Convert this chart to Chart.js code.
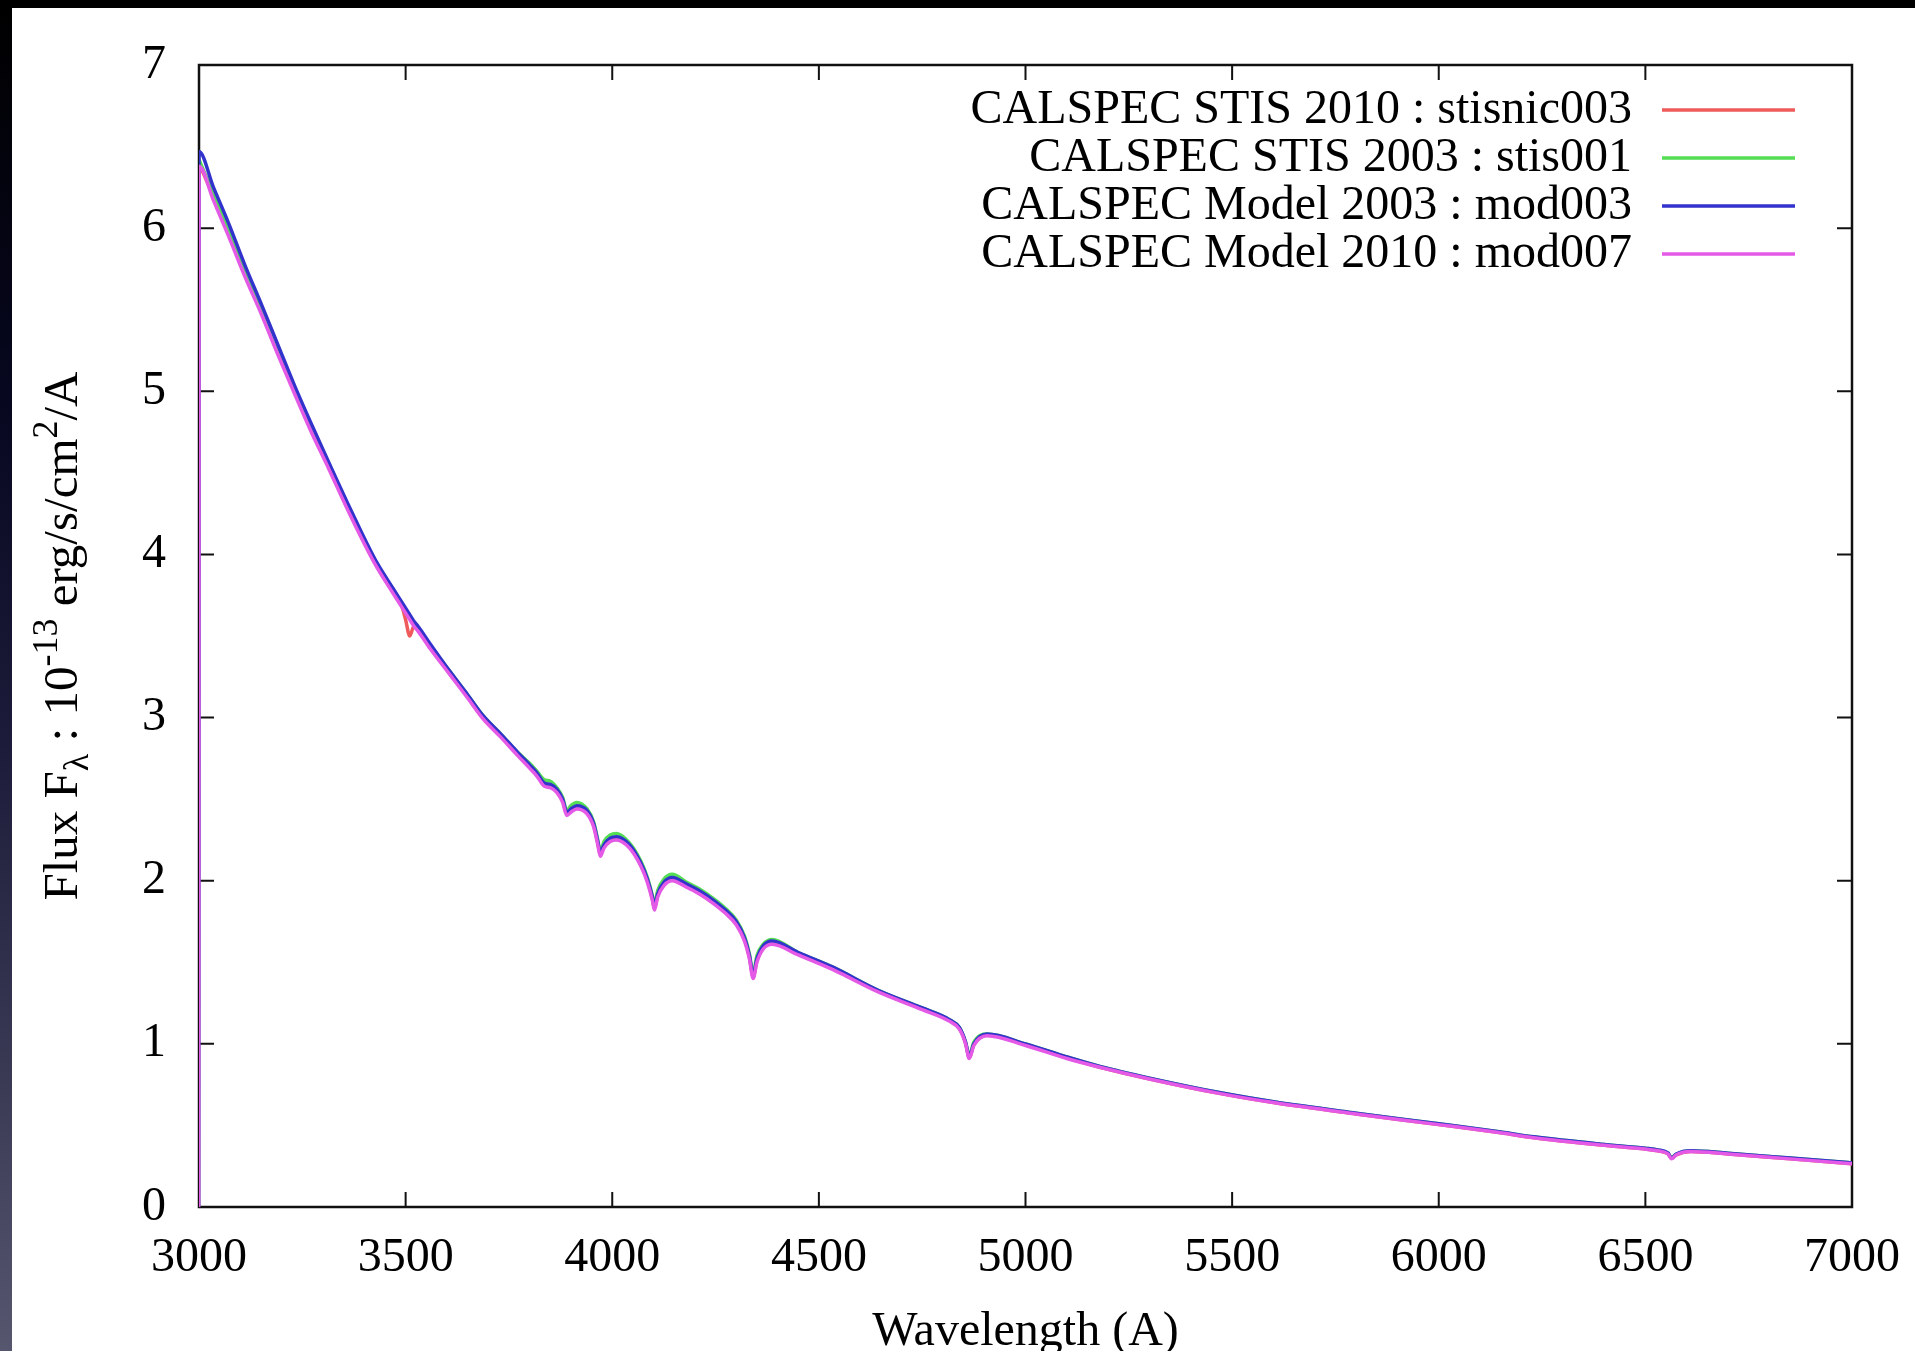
<!DOCTYPE html>
<html>
<head>
<meta charset="utf-8">
<title>CALSPEC flux comparison</title>
<script src="https://cdn.jsdelivr.net/npm/chart.js@4/dist/chart.umd.min.js"></script>
<style>
  html, body { margin: 0; padding: 0; background: #fff; overflow: hidden; }
  #stage { position: relative; width: 1915px; height: 1351px; }
  .band-top { position: absolute; left: 0; top: 0; width: 1915px; height: 8px; background: #000; }
  .band-left { position: absolute; left: 0; top: 0; width: 12px; height: 1351px;
    background: linear-gradient(to bottom, #000 0%, #070720 30%, #1c1c3a 55%, #3a3a55 80%, #56566f 100%); }
  #spectrum { position: absolute; left: 0; top: 0; }
</style>
</head>
<body>
<div id="stage">
  <div class="band-top"></div>
  <div class="band-left"></div>
  <canvas id="spectrum" width="1915" height="1351"></canvas>
</div>
<script>
// 波長 (A)
const wavelength = [
  2999, 3000, 3035, 3070, 3110, 3153, 3190, 3232, 3270, 3313,
  3366, 3426, 3470, 3490, 3500, 3510, 3520, 3530, 3560, 3608,
  3650, 3688, 3730, 3770, 3800, 3818, 3835, 3850, 3866, 3880,
  3890, 3900, 3914, 3939, 3955, 3965, 3971, 3980, 3995, 4010,
  4042, 4069, 4085, 4097, 4102, 4110, 4125, 4145, 4180, 4210,
  4245, 4274, 4300, 4320, 4332, 4341, 4350, 4365, 4387, 4450,
  4534, 4642, 4750, 4815, 4840, 4855, 4864, 4875, 4907, 5000,
  5100, 5182, 5300, 5472, 5600, 5800, 6000, 6150, 6230, 6392,
  6500, 6530, 6555, 6563, 6575, 6610, 6700, 6850, 7000
];

// フラックス (1e-13 erg/s/cm2/A)
const stisnic003 = [
  null, 6.40, 6.19, 5.98, 5.73, 5.47, 5.25, 5.00, 4.78, 4.54,
  4.25, 3.95, 3.77, 3.69, 3.60, 3.50, 3.56, 3.54, 3.43, 3.27,
  3.13, 3.00, 2.89, 2.78, 2.70, 2.65, 2.60, 2.58, 2.55, 2.49,
  2.41, 2.43, 2.45, 2.42, 2.34, 2.23, 2.16, 2.21, 2.25, 2.26,
  2.21, 2.10, 2.00, 1.89, 1.83, 1.91, 1.98, 2.01, 1.97, 1.93,
  1.87, 1.81, 1.74, 1.64, 1.53, 1.41, 1.51, 1.59, 1.62, 1.55,
  1.46, 1.325, 1.215, 1.145, 1.095, 1.005, 0.915, 0.995, 1.055, 0.995,
  0.915, 0.855, 0.785, 0.695, 0.64, 0.57, 0.505, 0.455, 0.425, 0.38,
  0.355, 0.345, 0.325, 0.30, 0.32, 0.34, 0.325, 0.295, 0.265
];

const stis001 = [
  null, 6.42, 6.21, 6.00, 5.75, 5.49, 5.26, 5.01, 4.79, 4.55,
  4.26, 3.96, 3.78, 3.70, 3.66, 3.62, 3.58, 3.55, 3.44, 3.28,
  3.14, 3.01, 2.90, 2.79, 2.72, 2.67, 2.62, 2.61, 2.57, 2.51,
  2.43, 2.46, 2.48, 2.44, 2.36, 2.25, 2.18, 2.24, 2.28, 2.29,
  2.23, 2.12, 2.02, 1.91, 1.85, 1.94, 2.01, 2.04, 1.99, 1.95,
  1.89, 1.83, 1.76, 1.66, 1.55, 1.43, 1.54, 1.61, 1.64, 1.56,
  1.47, 1.33, 1.22, 1.15, 1.10, 1.01, 0.93, 1.01, 1.06, 1.00,
  0.92, 0.86, 0.79, 0.70, 0.645, 0.575, 0.51, 0.46, 0.43, 0.385,
  0.36, 0.35, 0.33, 0.305, 0.325, 0.345, 0.33, 0.30, 0.27
];

const mod003 = [
  0, 6.47, 6.25, 6.04, 5.78, 5.52, 5.29, 5.03, 4.81, 4.57,
  4.28, 3.97, 3.79, 3.71, 3.67, 3.63, 3.59, 3.56, 3.45, 3.28,
  3.14, 3.01, 2.90, 2.79, 2.71, 2.66, 2.60, 2.59, 2.56, 2.50,
  2.42, 2.44, 2.46, 2.43, 2.35, 2.24, 2.17, 2.22, 2.26, 2.27,
  2.22, 2.11, 2.01, 1.90, 1.84, 1.92, 1.99, 2.02, 1.98, 1.94,
  1.88, 1.82, 1.75, 1.65, 1.54, 1.42, 1.52, 1.60, 1.63, 1.56,
  1.47, 1.33, 1.22, 1.15, 1.10, 1.01, 0.92, 1.00, 1.06, 1.00,
  0.92, 0.86, 0.79, 0.70, 0.645, 0.575, 0.51, 0.46, 0.43, 0.385,
  0.36, 0.35, 0.33, 0.30, 0.325, 0.345, 0.33, 0.30, 0.27
];

const mod007 = [
  0, 6.38, 6.17, 5.96, 5.71, 5.46, 5.23, 4.98, 4.76, 4.53,
  4.24, 3.94, 3.76, 3.68, 3.64, 3.60, 3.56, 3.53, 3.42, 3.26,
  3.12, 2.99, 2.88, 2.77, 2.69, 2.64, 2.58, 2.57, 2.54, 2.48,
  2.40, 2.42, 2.44, 2.41, 2.33, 2.22, 2.15, 2.20, 2.24, 2.25,
  2.20, 2.09, 1.99, 1.88, 1.82, 1.90, 1.97, 2.00, 1.96, 1.92,
  1.86, 1.80, 1.73, 1.63, 1.52, 1.40, 1.50, 1.58, 1.61, 1.545,
  1.455, 1.32, 1.21, 1.14, 1.09, 1.00, 0.91, 0.99, 1.05, 0.99,
  0.91, 0.855, 0.785, 0.695, 0.64, 0.57, 0.505, 0.455, 0.425, 0.38,
  0.355, 0.345, 0.325, 0.295, 0.32, 0.34, 0.325, 0.295, 0.265
];

const seriesLabels = [
  'CALSPEC STIS 2010 : stisnic003',
  'CALSPEC STIS 2003 : stis001',
  'CALSPEC Model 2003 : mod003',
  'CALSPEC Model 2010 : mod007'
];
const seriesValues = [stisnic003, stis001, mod003, mod007];
const seriesColors = ['#ef5a5a', '#55dd55', '#3232cc', '#e45ae6'];

const xTicks = [3000, 3500, 4000, 4500, 5000, 5500, 6000, 6500, 7000];
const yTicks = [0, 1, 2, 3, 4, 5, 6, 7];

const FONT = '"Liberation Serif", "Times New Roman", serif';
const FONT_SIZE = 48;

function toPoints(values) {
  return wavelength.map((w, i) => ({ x: w, y: values[i] }));
}

// 枠線と内向きの目盛り（gnuplot風）
const gnuplotFrame = {
  id: 'gnuplotFrame',
  beforeDatasetsDraw(chart) {
    const { ctx, chartArea: a, scales } = chart;
    const tick = 15;
    ctx.save();
    ctx.strokeStyle = '#111';
    ctx.lineWidth = 2.5;
    ctx.strokeRect(a.left, a.top, a.right - a.left, a.bottom - a.top);
    ctx.lineWidth = 2;
    ctx.beginPath();
    xTicks.forEach(v => {
      const px = scales.x.getPixelForValue(v);
      ctx.moveTo(px, a.bottom); ctx.lineTo(px, a.bottom - tick);
      ctx.moveTo(px, a.top); ctx.lineTo(px, a.top + tick);
    });
    yTicks.forEach(v => {
      const py = scales.y.getPixelForValue(v);
      ctx.moveTo(a.left, py); ctx.lineTo(a.left + tick, py);
      ctx.moveTo(a.right, py); ctx.lineTo(a.right - tick, py);
    });
    ctx.stroke();
    ctx.restore();
  },
  afterDraw(chart) {
    const { ctx, chartArea: a } = chart;
    ctx.save();
    // 凡例：右寄せのテキスト＋線サンプル
    ctx.font = `${FONT_SIZE}px ${FONT}`;
    ctx.fillStyle = '#000';
    ctx.textAlign = 'right';
    ctx.textBaseline = 'middle';
    const textRight = a.right - 220;
    const lineStart = a.right - 190;
    const lineEnd = a.right - 57;
    chart.data.datasets.forEach((ds, i) => {
      const y = a.top + 45 + i * 48;
      ctx.fillText(ds.label, textRight, y);
      ctx.strokeStyle = ds.borderColor;
      ctx.lineWidth = 3.5;
      ctx.beginPath();
      ctx.moveTo(lineStart, y);
      ctx.lineTo(lineEnd, y);
      ctx.stroke();
    });

    // 縦軸タイトル（下付き・上付きあり）
    const small = 36;
    const parts = [
      { t: 'Flux F', s: FONT_SIZE + 1, dy: 0 },
      { t: 'λ', s: small, dy: 11 },
      { t: ' : 10', s: FONT_SIZE + 1, dy: 0 },
      { t: '-13', s: small, dy: -20 },
      { t: ' erg/s/cm', s: FONT_SIZE + 1, dy: 0 },
      { t: '2', s: small, dy: -20 },
      { t: '/A', s: FONT_SIZE + 1, dy: 0 }
    ];
    ctx.textAlign = 'left';
    ctx.textBaseline = 'alphabetic';
    let total = 0;
    parts.forEach(p => {
      ctx.font = `${p.s}px ${FONT}`;
      p.w = ctx.measureText(p.t).width;
      total += p.w;
    });
    ctx.translate(61, (a.top + a.bottom) / 2);
    ctx.rotate(-Math.PI / 2);
    let x = -total / 2;
    parts.forEach(p => {
      ctx.font = `${p.s}px ${FONT}`;
      ctx.fillText(p.t, x, 16 + p.dy);
      x += p.w;
    });
    ctx.restore();
  }
};

document.addEventListener('DOMContentLoaded', () => {
  const datasets = seriesLabels.map((label, i) => ({
    label: label,
    data: toPoints(seriesValues[i]),
    borderColor: seriesColors[i],
    backgroundColor: seriesColors[i],
    borderWidth: 3.5,
    pointRadius: 0,
    cubicInterpolationMode: 'monotone',
    spanGaps: false,
    borderJoinStyle: 'round',
    order: seriesLabels.length - 1 - i
  }));

  new Chart(document.getElementById('spectrum'), {
    type: 'line',
    data: { datasets: datasets },
    plugins: [gnuplotFrame],
    options: {
      responsive: false,
      animation: false,
      devicePixelRatio: 1,
      layout: { padding: { left: 12, top: 65, right: 63, bottom: 0 } },
      plugins: {
        legend: { display: false },
        tooltip: { enabled: false }
      },
      scales: {
        x: {
          type: 'linear',
          min: 3000,
          max: 7000,
          afterFit: scale => {
            scale.height = 144;
            scale.paddingLeft = 0;
            scale.paddingRight = 0;
          },
          afterBuildTicks: scale => { scale.ticks = xTicks.map(v => ({ value: v })); },
          grid: { display: false, drawTicks: false },
          border: { display: false },
          ticks: {
            color: '#000',
            padding: 23,
            maxRotation: 0,
            autoSkip: false,
            callback: v => String(v),
            font: { family: FONT, size: FONT_SIZE }
          },
          title: {
            display: true,
            text: 'Wavelength (A)',
            color: '#000',
            padding: { top: -10, bottom: -10 },
            font: { family: FONT, size: FONT_SIZE }
          }
        },
        y: {
          type: 'linear',
          min: 0,
          max: 7,
          afterFit: scale => {
            scale.width = 187;
            scale.paddingTop = 0;
            scale.paddingBottom = 0;
          },
          afterBuildTicks: scale => { scale.ticks = yTicks.map(v => ({ value: v })); },
          grid: { display: false, drawTicks: false },
          border: { display: false },
          ticks: {
            color: '#000',
            padding: 33,
            callback: v => String(v),
            font: { family: FONT, size: FONT_SIZE }
          }
        }
      }
    }
  });
});
</script>
</body>
</html>
